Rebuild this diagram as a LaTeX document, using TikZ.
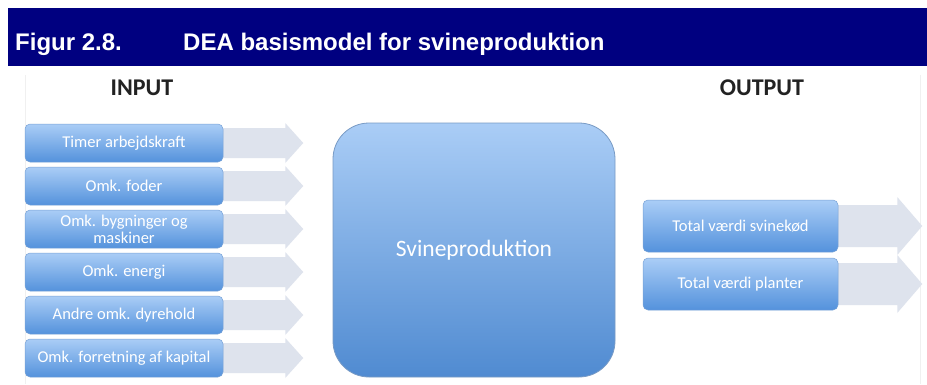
\documentclass[tikz,border=0pt]{standalone}
\usepackage{fontspec}
\setmainfont{Carlito}
\newfontfamily\titlefont{Liberation Sans}
\pgfdeclarelayer{background}
\pgfdeclarelayer{canvas}
\pgfsetlayers{canvas,background,main}
\definecolor{navy}{RGB}{0,0,128}
\definecolor{boxtop}{RGB}{170,205,246}
\definecolor{boxbot}{RGB}{84,146,220}
\definecolor{boxline}{RGB}{120,162,214}
\definecolor{arrowgray}{RGB}{222,227,237}
\definecolor{headtxt}{RGB}{34,34,34}
\definecolor{frame}{RGB}{240,240,240}
\tikzset{
  inbox/.style={rectangle, rounded corners=5pt, top color=boxtop, bottom color=boxbot,
    draw=boxline, line width=0.5pt, minimum width=198pt, minimum height=38pt, inner sep=1pt,
    text=white, align=center, font=\fontsize{16.5}{17}\selectfont},
  outbox/.style={inbox, minimum width=195pt, minimum height=52pt},
  bigbox/.style={rectangle, rounded corners=36pt, top color=boxtop, bottom color=boxbot!95!black,
    draw=boxline!80!gray, line width=0.8pt, minimum width=282pt, minimum height=254pt,
    text=white, font=\fontsize{23.5}{26}\selectfont},
  arrowshape/.style={fill=arrowgray, draw=none},
  heading/.style={text=headtxt, font=\fontsize{24}{28}\selectfont\bfseries},
  titletxt/.style={text=white, font=\titlefont\fontsize{24}{28}\selectfont\bfseries, inner sep=0pt, anchor=base west},
}
\begin{document}
\begin{tikzpicture}[x=1pt,y=-1pt]
\useasboundingbox (0,0) rectangle (927,384);
\begin{pgfonlayer}{canvas}
\fill[white] (0,0) rectangle (927,384);
\draw[frame, line width=0.6pt] (25,75) -- (25,384);
\draw[frame, line width=0.6pt] (920,75) -- (920,384);
\end{pgfonlayer}
% title band
\fill[navy] (8,8) rectangle (927,66);
\node[titletxt] (fig) at (15,50) {Figur 2.8.};
\node[titletxt] (ttl) at (183,50) {DEA basismodel for svineproduktion};
% headings
\node[heading] (inhead) at (142,88) {INPUT};
\node[heading] (outhead) at (762,88) {OUTPUT};
% input boxes with arrows behind
\foreach \t [count=\i from 0] in {Timer arbejdskraft, Omk. foder, {Omk. bygninger og\\maskiner}, Omk. energi, Andre omk. dyrehold, Omk. forretning af kapital}{
  \node[inbox] (ib\i) at (124,{143+43*\i}) {\t};
  \begin{pgfonlayer}{background}
    \fill[arrowshape] ([shift={(-10,-15)}]ib\i.east) -- ++(72,0) -- ++(0,-5) -- ++(18,20)
      -- ++(-18,20) -- ++(0,-5) -- ++(-72,0) -- cycle;
  \end{pgfonlayer}
}
% central box
\node[bigbox] (sv) at (474,250) {Svineproduktion};
% output boxes with arrows behind
\node[outbox] (ob0) at (740.5,226) {Total værdi svinekød};
\node[outbox] (ob1) at (740.5,284) {Total værdi planter};
\begin{pgfonlayer}{background}
\foreach \i in {0,1}{
  \fill[arrowshape] ([shift={(-10,-21)}]ob\i.east) -- ++(69,0) -- ++(0,-8) -- ++(25,29)
    -- ++(-25,29) -- ++(0,-8) -- ++(-69,0) -- cycle;
}
\end{pgfonlayer}
\end{tikzpicture}
\end{document}
